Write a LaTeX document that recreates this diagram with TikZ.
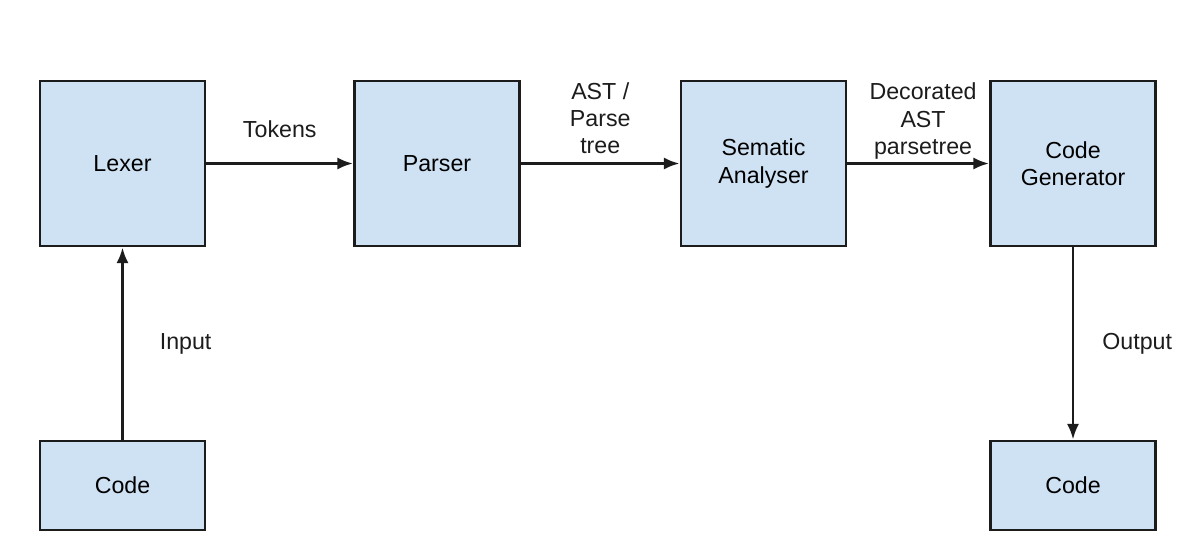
\documentclass[tikz,border=0pt]{standalone}
\usepackage{fontspec}
\setmainfont{Liberation Sans}
\usetikzlibrary{arrows.meta,positioning}
\definecolor{boxblue}{HTML}{CFE2F3}
\definecolor{boxline}{HTML}{1C1C1C}
\tikzset{
  stage/.style={draw=boxline,fill=boxblue,line width=2pt,minimum width=4.125cm,minimum height=4.125cm,align=center,inner sep=0pt},
  iobox/.style={stage,minimum height=2.225cm},
  flow/.style={->,line width=1.9pt,draw=boxline},
  flowlabel/.style={align=center,inner sep=0pt,text=boxline}
}
\begin{document}
\begin{tikzpicture}[x=0.025cm,y=-0.025cm,>={Latex[length=3.9mm,width=3mm]},font=\fontsize{16.5}{19.3}\selectfont]
\useasboundingbox (0,0) rectangle (1200,554);
% compiler stages
\node[stage] (lexer) at (122.5,163.5) {Lexer};
\node[stage] (parser) at (437,163.5) {Parser};
\node[stage] (sema) at (763.5,163.5) {Sematic\\Analyser};
\node[stage] (codegen) at (1073,163.5) {Code\\Generator};
% source and target code
\node[iobox] (codein) at (122.5,485.5) {Code};
\node[iobox] (codeout) at (1073,485.5) {Code};
% connectors
\draw[flow] (codein) -- node[flowlabel,right=0.9cm] {Input} (lexer);
\draw[flow] (lexer) -- node[flowlabel,above=0.6cm] {Tokens} (parser);
\draw[flow] (parser) -- node[flowlabel,above=0.2cm] {AST /\\Parse\\tree} (sema);
\draw[flow] (sema) -- node[flowlabel,above=0.08cm,xshift=0.12cm] {Decorated\\AST\\parsetree} (codegen);
\draw[flow] (codegen) -- node[flowlabel,right=0.7cm] {Output} (codeout);
\end{tikzpicture}
\end{document}
